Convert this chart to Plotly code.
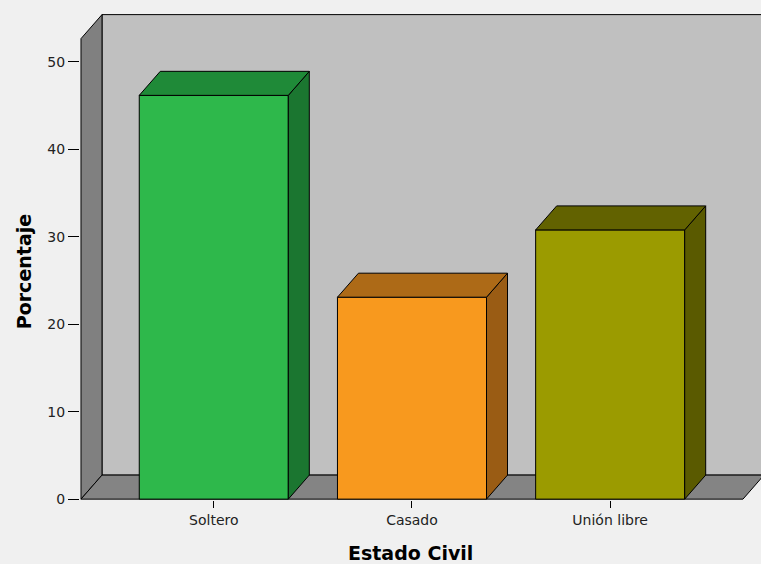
import plotly.graph_objects as go

# ---- data ----
categories = ["Soltero", "Casado", "Unión libre"]
percentages = [46.15, 23.08, 30.77]
y_tick_values = [0, 10, 20, 30, 40, 50]

# ---- style ----
front_colors = ["#2eb84b", "#f8991e", "#9b9b00"]
top_colors = ["#1f8a38", "#ad6a17", "#626200"]
side_colors = ["#1b7630", "#9a5c14", "#5a5a00"]
BG = "#f0f0f0"
BACK_WALL = "#c0c0c0"
SIDE_WALL = "#808080"
FLOOR = "#848484"

BAR_W = 0.752
DX = 0.106   # depth offset in x units
DY = 2.746   # depth offset in y units
X0, X1 = -0.675, 2.761
Y0, Y1 = -0.1, 55.45
WALL_L = -0.67
FLOOR_R = 2.67
WALL_TOP = 55.38

xs = list(range(len(categories)))

fig = go.Figure()

# side and top faces (derived from the data)
for i, (x, v) in enumerate(zip(xs, percentages)):
    l, r = x - BAR_W / 2, x + BAR_W / 2
    fig.add_trace(go.Scatter(
        x=[r, r + DX, r + DX, r, r], y=[0, DY, v + DY, v, 0],
        mode="lines", fill="toself", fillcolor=side_colors[i],
        line=dict(color="black", width=1), hoverinfo="skip", showlegend=False))
    fig.add_trace(go.Scatter(
        x=[l, r, r + DX, l + DX, l], y=[v, v, v + DY, v + DY, v],
        mode="lines", fill="toself", fillcolor=top_colors[i],
        line=dict(color="black", width=1), hoverinfo="skip", showlegend=False))

# front faces
fig.add_trace(go.Bar(
    x=xs, y=percentages, width=BAR_W,
    marker=dict(color=front_colors, line=dict(color="black", width=1)),
    showlegend=False, hovertemplate="%{y:.1f}%<extra></extra>"))

# walls (decoration)
def poly(pts):
    return "M " + " L ".join(f"{a},{b}" for a, b in pts) + " Z"

shapes = [
    dict(type="path", xref="x", yref="y", layer="below",
         path=poly([(WALL_L + DX, DY), (X1 + 1, DY), (X1 + 1, WALL_TOP), (WALL_L + DX, WALL_TOP)]),
         fillcolor=BACK_WALL, line=dict(color="black", width=1)),
    dict(type="path", xref="x", yref="y", layer="below",
         path=poly([(WALL_L, 0), (WALL_L + DX, DY), (WALL_L + DX, WALL_TOP), (WALL_L, WALL_TOP - DY)]),
         fillcolor=SIDE_WALL, line=dict(color="black", width=1)),
    dict(type="path", xref="x", yref="y", layer="below",
         path=poly([(WALL_L, 0), (FLOOR_R, 0), (FLOOR_R + DX, DY), (WALL_L + DX, DY)]),
         fillcolor=FLOOR, line=dict(color="black", width=1)),
]

fig.update_layout(
    width=761, height=564, autosize=False,
    margin=dict(l=80, r=0, t=14, b=64, pad=0),
    paper_bgcolor=BG, plot_bgcolor=BG,
    shapes=shapes,
    font=dict(family="DejaVu Sans", size=14, color="#222222"),
    xaxis=dict(range=[X0, X1], tickmode="array", tickvals=xs, ticktext=categories,
               showgrid=False, zeroline=False, showline=False,
               ticks="outside", ticklen=7, tickcolor="black", tickwidth=1,
               tickfont=dict(family="DejaVu Sans", size=14, color="#222222")),
    yaxis=dict(range=[Y0, Y1], tickmode="array", tickvals=y_tick_values,
               showgrid=False, zeroline=False, showline=False,
               ticks="outside", ticklen=11, tickcolor="black", tickwidth=1,
               tickfont=dict(family="DejaVu Sans", size=14, color="#222222")),
    annotations=[
        dict(text="<b>Estado Civil</b>", xref="paper", yref="paper",
             x=0.486, y=-0.109, xanchor="center", yanchor="middle", showarrow=False,
             font=dict(family="DejaVu Sans", size=19, color="black")),
        dict(text="<b>Porcentaje</b>", xref="paper", yref="paper",
             x=-0.082, y=0.469, xanchor="center", yanchor="middle", showarrow=False,
             textangle=-90, font=dict(family="DejaVu Sans", size=19, color="black")),
    ],
)

fig.write_html(
    "out.html",
    config={"displayModeBar": False},
    post_script="document.body.style.margin='0';document.body.style.padding='0';"
                "document.body.style.background='#f0f0f0';document.body.style.overflow='hidden';",
)
